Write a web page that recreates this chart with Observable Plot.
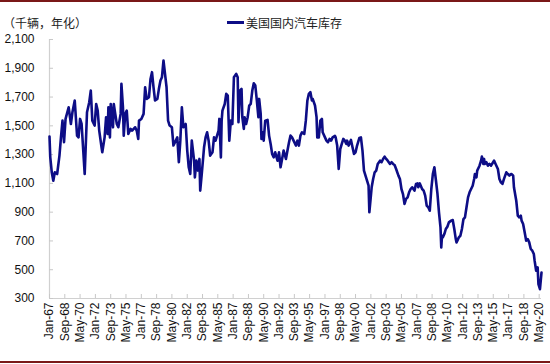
<!DOCTYPE html>
<html>
<head>
<meta charset="utf-8">
<script src="https://cdn.jsdelivr.net/npm/d3@7"></script>
<script src="https://cdn.jsdelivr.net/npm/@observablehq/plot@0.6"></script>
<style>
  html, body { margin: 0; padding: 0; background: #fff; }
  #wrap { position: relative; width: 550px; height: 364px; overflow: hidden; background: #fff; }
  .rule-top { position: absolute; left: 0; top: 0; width: 550px; height: 2px; background: #7a1818; }
  .rule-bot { position: absolute; left: 0; top: 361px; width: 550px; height: 2px; background: #7a1818; }
  #unit { position: absolute; left: 3px; top: 14px; font: 12px "Noto Sans CJK SC", sans-serif; color: #222; white-space: nowrap; }
  #legend { position: absolute; left: 227px; top: 14px; font: 12px "Noto Sans CJK SC", sans-serif; color: #222; white-space: nowrap; display: flex; align-items: center; }
  #legend .sw { display: inline-block; width: 17px; height: 3px; background: #0d0d86; margin-right: 2px; }
  #chart { position: absolute; left: 0; top: 30px; }
</style>
</head>
<body>
<div id="wrap">
  <div class="rule-top"></div>
  <div id="unit"></div>
  <div id="legend"><span class="sw"></span><span id="legendText"></span></div>
  <div id="chart"></div>
  <div class="rule-bot"></div>
</div>
<script>
const unitLabel = "（千辆，年化）";
const seriesName = "美国国内汽车库存";

const months = [
"1967-01","1967-02","1967-04","1967-06","1967-08","1967-11","1968-02","1968-04","1968-06","1968-08","1968-10",
"1969-02","1969-05","1969-07","1969-10","1970-01","1970-03","1970-05","1970-07","1970-11","1971-02","1971-05",
"1971-07","1971-09","1971-12","1972-02","1972-04","1972-06","1972-09","1972-10","1973-01","1973-03","1973-05",
"1973-06","1973-08","1973-09","1973-12","1974-01","1974-03","1974-05","1974-07","1974-10","1974-11","1975-01",
"1975-02","1975-04","1975-06","1975-08","1975-11","1976-01","1976-03","1976-05","1976-07","1976-09","1976-10",
"1977-01","1977-04","1977-06","1977-08","1977-11","1978-01","1978-03","1978-05","1978-07","1978-10","1978-12",
"1979-02","1979-04","1979-06","1979-08","1979-10","1979-12","1980-02","1980-05","1980-07","1980-10","1980-12",
"1981-02","1981-04","1981-06","1981-08","1981-11","1982-01","1982-03","1982-05","1982-07","1982-10","1982-11",
"1983-01","1983-03","1983-05","1983-06","1983-08","1983-11","1984-01","1984-03","1984-05","1984-07","1984-10",
"1984-12","1985-02","1985-04","1985-06","1985-07","1985-09","1985-10","1985-11","1986-02","1986-04","1986-06",
"1986-08","1986-10","1986-12","1987-02","1987-05","1987-07","1987-08","1987-10","1987-12","1988-01","1988-03",
"1988-04","1988-06","1988-08","1988-10","1988-12","1989-02","1989-04","1989-06","1989-08","1989-10","1989-11",
"1990-01","1990-02","1990-04","1990-05","1990-07","1990-10","1990-12","1991-02","1991-04","1991-06","1991-08",
"1991-11","1992-01","1992-03","1992-05","1992-07","1992-10","1992-12","1993-02","1993-04","1993-06","1993-08",
"1993-11","1994-01","1994-03","1994-05","1994-07","1994-10","1994-12","1995-02","1995-04","1995-06","1995-08",
"1995-09","1995-12","1996-02","1996-03","1996-05","1996-07","1996-09","1996-10","1997-01","1997-03","1997-05",
"1997-07","1997-09","1997-11","1998-02","1998-03","1998-05","1998-07","1998-09","1998-11","1999-01","1999-03",
"1999-05","1999-06","1999-08","1999-11","2000-01","2000-03","2000-05","2000-07","2000-10","2000-12","2001-02",
"2001-04","2001-06","2001-08","2001-10","2001-11","2002-02","2002-04","2002-06","2002-08","2002-10","2003-01",
"2003-03","2003-05","2003-07","2003-09","2003-11","2004-02","2004-04","2004-06","2004-08","2004-10","2005-01",
"2005-03","2005-05","2005-07","2005-09","2005-11","2006-01","2006-03","2006-05","2006-07","2006-10","2006-12",
"2007-02","2007-03","2007-05","2007-08","2007-10","2007-12","2008-02","2008-04","2008-06","2008-08","2008-10",
"2008-12","2009-02","2009-04","2009-06","2009-08","2009-09","2009-10","2009-11","2010-01","2010-03","2010-05",
"2010-07","2010-10","2010-12","2011-02","2011-04","2011-05","2011-08","2011-10","2011-12","2012-02","2012-04",
"2012-06","2012-08","2012-10","2012-12","2013-02","2013-04","2013-05","2013-07","2013-08","2013-11","2014-01",
"2014-02","2014-04","2014-05","2014-06","2014-08","2014-10","2014-12","2015-02","2015-04","2015-06","2015-08",
"2015-11","2016-01","2016-03","2016-05","2016-07","2016-10","2016-12","2017-02","2017-04","2017-05","2017-07",
"2017-08","2017-11","2018-01","2018-03","2018-05","2018-06","2018-08","2018-10","2018-12","2019-02","2019-04",
"2019-06","2019-08","2019-10","2019-11","2020-01","2020-02","2020-03","2020-04","2020-06","2020-07","2020-08"
];

const inventory = [
1425,1281,1177,1119,1177,1165,1293,1420,1536,1386,1548,
1629,1513,1594,1676,1432,1420,1548,1513,1165,1594,1664,
1745,1536,1502,1652,1606,1467,1351,1316,1420,1560,1444,
1629,1420,1652,1490,1652,1583,1513,1490,1583,1792,1629,
1432,1583,1606,1444,1479,1467,1479,1490,1467,1409,1536,
1548,1583,1768,1687,1699,1826,1873,1768,1676,1687,1757,
1815,1838,1954,1861,1768,1536,1502,1490,1363,1397,1420,
1247,1397,1629,1490,1513,1328,1212,1165,1397,1258,1142,
1258,1189,1270,1050,1165,1351,1420,1455,1397,1293,1316,
1420,1397,1432,1467,1548,1281,1536,1606,1652,1722,1710,
1397,1536,1513,1838,1861,1838,1525,1745,1757,1560,1479,
1560,1513,1560,1641,1652,1745,1796,1780,1676,1560,1687,
1583,1409,1455,1397,1536,1541,1432,1374,1305,1281,1316,
1258,1316,1212,1270,1328,1270,1328,1386,1432,1420,1397,
1363,1397,1363,1432,1455,1444,1536,1676,1722,1734,1676,
1687,1641,1560,1420,1420,1536,1548,1455,1420,1397,1386,
1409,1397,1420,1430,1420,1363,1200,1339,1374,1409,1397,
1374,1397,1363,1402,1351,1305,1316,1363,1416,1420,1328,
1189,1154,1119,1084,899,1073,1131,1177,1189,1235,1258,
1247,1270,1286,1270,1258,1235,1247,1235,1228,1200,1154,
1131,1061,1026,957,992,1003,1038,1061,1073,1050,1096,
1100,1073,1100,1061,1050,1015,945,934,910,1061,1165,
1212,1120,1030,900,794,655,736,725,748,783,799,
829,841,845,783,713,690,725,736,783,852,864,
934,1003,1038,1061,1084,1131,1165,1142,1189,1223,1258,
1286,1235,1270,1235,1247,1223,1235,1223,1240,1258,1235,
1200,1131,1107,1096,1131,1177,1165,1154,1165,1165,1154,
1073,980,876,864,876,841,818,760,702,713,690,
644,632,609,563,493,505,516,400,365,423,480
];

const xTickLabels = ["Jan-67","Sep-68","May-70","Jan-72","Sep-73","May-75","Jan-77","Sep-78","May-80","Jan-82","Sep-83",
"May-85","Jan-87","Sep-88","May-90","Jan-92","Sep-93","May-95","Jan-97","Sep-98","May-00","Jan-02","Sep-03",
"May-05","Jan-07","Sep-08","May-10","Jan-12","Sep-13","May-15","Jan-17","Sep-18","May-20"];
const yTicks = [300, 500, 700, 900, 1100, 1300, 1500, 1700, 1900, 2100];

document.getElementById("unit").textContent = unitLabel;
document.getElementById("legendText").textContent = seriesName;

const parseMonth = d3.utcParse("%Y-%m");
const monIdx = {Jan:0,Feb:1,Mar:2,Apr:3,May:4,Jun:5,Jul:6,Aug:7,Sep:8,Oct:9,Nov:10,Dec:11};
function parseTick(s) {
  const [m, yy] = s.split("-");
  const y = +yy >= 50 ? 1900 + +yy : 2000 + +yy;
  return new Date(Date.UTC(y, monIdx[m], 1));
}
const data = months.map((m, i) => ({date: parseMonth(m), value: inventory[i]}));
const xTickDates = xTickLabels.map(parseTick);
const xDomain = [data[0].date, data[data.length - 1].date];

const chart = Plot.plot({
  width: 550,
  height: 331,
  marginTop: 9,
  marginBottom: 63,
  marginLeft: 49,
  marginRight: 9,
  style: {fontFamily: "'Liberation Sans', Arial, sans-serif", fontSize: "12px", color: "#111", background: "transparent"},
  x: {type: "utc", domain: xDomain},
  y: {domain: [300, 2100]},
  marks: [
    Plot.ruleX([xDomain[0]], {stroke: "#d0d0d0", strokeWidth: 1.2}),
    Plot.ruleY([300], {stroke: "#d0d0d0", strokeWidth: 1.2}),
    Plot.axisY({ticks: yTicks, tickSize: -4, tickPadding: 19, tickFormat: d3.format(","), stroke: "#c8c8c8", label: null}),
    Plot.axisX({ticks: xTickDates, tickSize: -4, tickPadding: 8, tickRotate: -90, tickFormat: (d) => xTickLabels[xTickDates.findIndex(t => +t === +d)], stroke: "#c8c8c8", label: null}),
    Plot.line(data, {x: "date", y: "value", stroke: "#0d0d86", strokeWidth: 2.6, strokeLinejoin: "round"})
  ]
});
document.getElementById("chart").appendChild(chart);
</script>
</body>
</html>
